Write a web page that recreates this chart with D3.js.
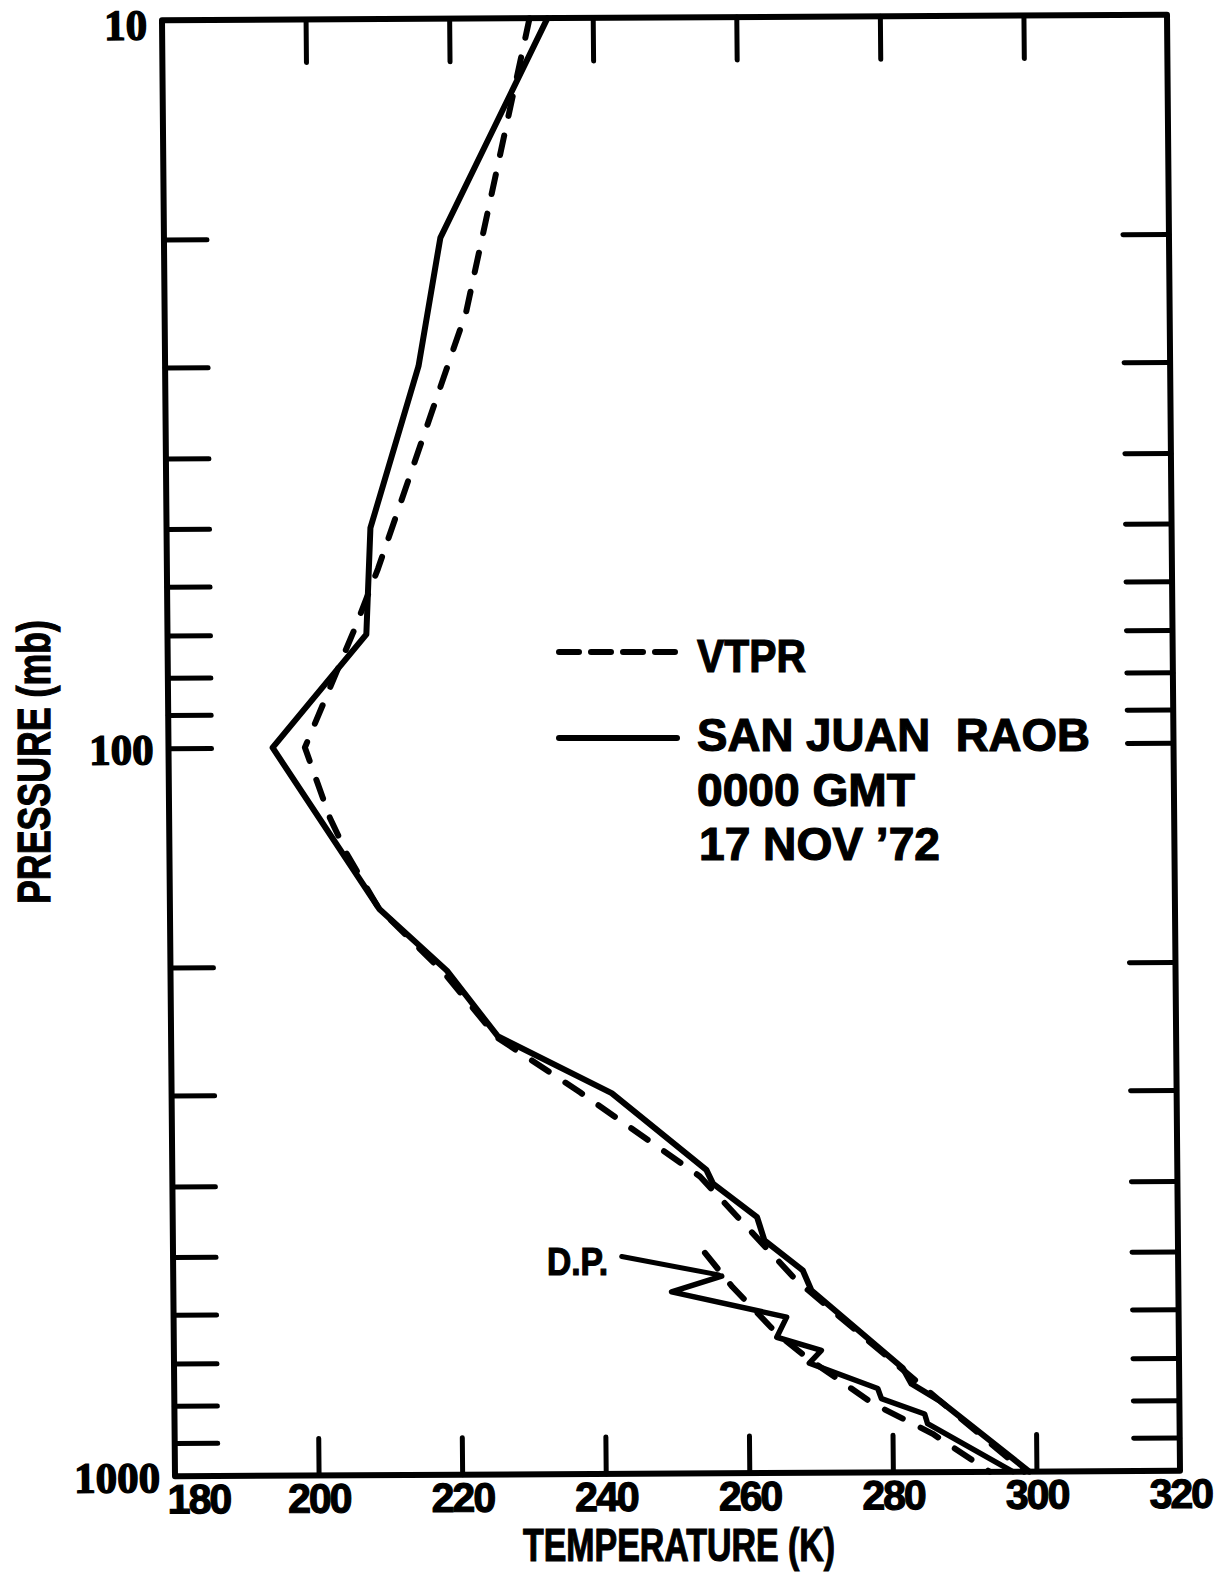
<!DOCTYPE html>
<html>
<head>
<meta charset="utf-8">
<script src="https://cdnjs.cloudflare.com/ajax/libs/d3/7.8.5/d3.min.js"></script>
<style>
  body { margin: 0; background: #fff; }
  svg { display: block; }
  .lbl { font-family: "Liberation Sans", Arial, sans-serif; font-weight: bold; fill: #000; stroke: #000; stroke-width: 1.2; white-space: pre; }
</style>
</head>
<body>
<div id="chart"></div>
<script>
// San Juan RAOB temperature profile (K) at pressure levels (mb)
var raobPressure = [10, 20, 30, 50, 70, 100, 167, 203, 250, 300, 383, 400, 445, 479, 527, 562, 719, 756, 798, 1000];
var raobTemp     = [233.7, 218.5, 215.3, 208.4, 207.7, 194.5, 209.2, 218.5, 225.5, 241.3, 254.4, 255.3, 261.4, 262.4, 267.7, 268.9, 281.5, 282.7, 286.6, 299.0];

// VTPR retrieval
var vtprPressure = [10, 25.3, 56.9, 68.7, 100, 125, 140, 166, 205, 251, 299, 391, 544, 1000];
var vtprTemp     = [231.2, 222.0, 209.4, 206.1, 199.0, 202.4, 204.7, 209.0, 218.2, 225.4, 236.9, 253.5, 266.8, 298.3];

// dew point (D.P.) curves
var raobDewPressure = [536, 563, 611, 651, 679, 707, 767, 792, 832, 858, 1000];
var raobDew         = [256.4, 249.4, 265.4, 264.0, 270.2, 268.5, 278.0, 278.5, 284.5, 284.9, 296.7];
var vtprDewPressure = [498, 555, 643, 694, 804, 886, 1000];
var vtprDew         = [254.1, 257.9, 264.0, 268.1, 277.3, 285.6, 293.5];

// D.P. pointer (from, to)
var dpArrowTemp = [242.5, 256.0];
var dpArrowPressure = [503, 534];

var tempTicks = [180, 200, 220, 240, 260, 280, 300, 320];
var tempInnerTicks = [200, 220, 240, 260, 280, 300];
var pressureLabels = [10, 100, 1000];
var pressureTicks = [20, 30, 40, 50, 60, 70, 80, 90, 100, 200, 300, 400, 500, 600, 700, 800, 900];


var width = 1226, height = 1574;
var plotW = 1005, plotH = 1456;

var svg = d3.select("#chart")
    .append("svg")
    .attr("width", width)
    .attr("height", height);

// the scanned frame is a little skewed, so the plot group is too
var g = svg.append("g")
    .attr("transform", "matrix(1,-0.00547,0.00893,1,162,20.25)");

var x = d3.scaleLinear().domain([180, 320]).range([0, plotW]);
var y = d3.scaleLog().domain([10, 1000]).range([0, plotH]);

function pairs(temps, levels) {
    return temps.map(function(t, i){ return { t: t, p: levels[i] }; });
}

var line = d3.line()
    .x(function(d){ return x(d.t); })
    .y(function(d){ return y(d.p); });

// frame
g.append("rect")
    .attr("x", 0).attr("y", 0)
    .attr("width", plotW).attr("height", plotH)
    .attr("fill", "none")
    .attr("stroke", "#000")
    .attr("stroke-width", 6)
    .attr("stroke-linejoin", "round");

function tickStyle(sel) {
    sel.select(".domain").remove();
    sel.selectAll("line").attr("stroke", "#000").attr("stroke-width", 5).attr("stroke-linecap", "round");
}

// inward ticks on all four sides
g.append("g")
    .call(d3.axisRight(y).tickValues(pressureTicks).tickSize(43).tickFormat(""))
    .call(tickStyle);
g.append("g")
    .attr("transform", "translate(" + plotW + ",0)")
    .call(d3.axisLeft(y).tickValues(pressureTicks).tickSize(46).tickFormat(""))
    .call(tickStyle);
g.append("g")
    .call(d3.axisBottom(x).tickValues(tempInnerTicks).tickSize(43).tickFormat(""))
    .call(tickStyle);
g.append("g")
    .attr("transform", "translate(0," + plotH + ")")
    .call(d3.axisTop(x).tickValues(tempInnerTicks).tickSize(37).tickFormat(""))
    .call(tickStyle);

// tick labels
var yLab = g.append("g")
    .call(d3.axisLeft(y).tickValues(pressureLabels).tickSize(0).tickPadding(15).tickFormat(d3.format("d")));
yLab.select(".domain").remove();
yLab.attr("font-family", "'Liberation Serif', 'Times New Roman', serif")
    .attr("font-size", 43)
    .attr("font-weight", "bold");
yLab.selectAll("text").attr("fill", "#000").attr("stroke", "#000").attr("stroke-width", 1.4)
    .attr("dy", function(d){ return d === 10 ? "0.44em" : "0.36em"; });

var xLab = g.append("g")
    .attr("transform", "translate(0," + plotH + ")")
    .call(d3.axisBottom(x).tickValues(tempTicks).tickSize(0).tickPadding(8).tickFormat(d3.format("d")));
xLab.select(".domain").remove();
xLab.attr("font-family", "'Liberation Sans', Arial, sans-serif")
    .attr("font-size", 41)
    .attr("font-weight", "bold");
xLab.selectAll("text").attr("fill", "#000").attr("stroke", "#000").attr("stroke-width", 1.2).attr("letter-spacing", -2);
xLab.selectAll(".tick").filter(function(d){ return d === 180; })
    .select("text").attr("text-anchor", "start").attr("x", -8);

// curves
function curve(data, dashed, w) {
    g.append("path")
        .datum(data)
        .attr("d", line)
        .attr("fill", "none")
        .attr("stroke", "#000")
        .attr("stroke-width", w)
        .attr("stroke-linejoin", "round")
        .attr("stroke-linecap", "round")
        .attr("stroke-dasharray", dashed ? "20,20" : null);
}
curve(pairs(vtprTemp, vtprPressure), true, 6);
curve(pairs(raobTemp, raobPressure), false, 6);
curve(pairs(vtprDew, vtprDewPressure), true, 6);
curve(pairs(raobDew, raobDewPressure), false, 5.5);
curve(pairs(dpArrowTemp, dpArrowPressure), false, 5);

// legend + notes
var leg = svg.append("g");
leg.append("line")
    .attr("x1", 559).attr("x2", 675).attr("y1", 652).attr("y2", 652)
    .attr("stroke", "#000").attr("stroke-width", 6)
    .attr("stroke-linecap", "round").attr("stroke-dasharray", "20,12");
leg.append("line")
    .attr("x1", 559).attr("x2", 677).attr("y1", 738).attr("y2", 738)
    .attr("stroke", "#000").attr("stroke-width", 6).attr("stroke-linecap", "round");

var notes = [
    { s: "VTPR", x: 697, y: 672, len: 109 },
    { s: "SAN JUAN  RAOB", x: 697, y: 751, len: 393 },
    { s: "0000 GMT", x: 697, y: 806, len: 218 },
    { s: "17 NOV \u201972", x: 699, y: 860, len: 241 }
];
leg.selectAll("text.note").data(notes).enter()
    .append("text")
    .attr("class", "lbl note")
    .attr("x", function(d){ return d.x; })
    .attr("y", function(d){ return d.y; })
    .attr("font-size", 47)
    .attr("textLength", function(d){ return d.len; })
    .attr("lengthAdjust", "spacingAndGlyphs")
    .text(function(d){ return d.s; });

svg.append("text")
    .attr("class", "lbl")
    .attr("x", 547).attr("y", 1275)
    .attr("font-size", 39)
    .attr("textLength", 61).attr("lengthAdjust", "spacingAndGlyphs")
    .text("D.P.");

// axis titles
svg.append("text")
    .attr("class", "lbl")
    .attr("x", 523).attr("y", 1561)
    .attr("font-size", 46)
    .attr("textLength", 312).attr("lengthAdjust", "spacingAndGlyphs")
    .text("TEMPERATURE (K)");

svg.append("text")
    .attr("class", "lbl")
    .attr("transform", "translate(50,762) rotate(-90)")
    .attr("text-anchor", "middle")
    .attr("font-size", 47)
    .attr("textLength", 284).attr("lengthAdjust", "spacingAndGlyphs")
    .text("PRESSURE (mb)");
</script>
</body>
</html>
